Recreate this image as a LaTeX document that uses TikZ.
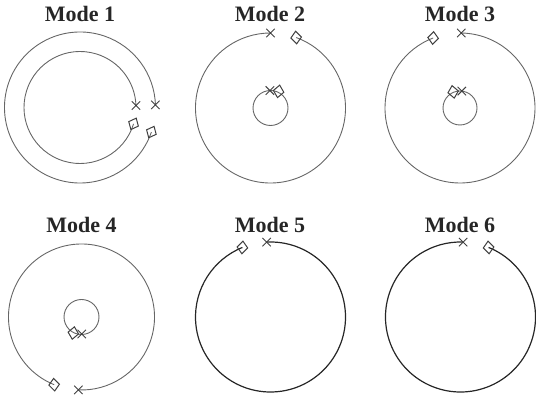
\documentclass[tikz,border=0pt]{standalone}
\usepackage{fontspec}
\setmainfont{Liberation Serif}
\usetikzlibrary{shapes.geometric,shapes.misc}
\begin{document}
\begin{tikzpicture}[x=1pt,y=1pt,
  title/.style={font=\fontsize{22}{22}\selectfont\bfseries, text=black!85, inner sep=0pt},
  orbit/.style={draw=black!60, line width=0.9pt},
  orbitdark/.style={draw=black!85, line width=1.2pt},
  cross/.style={cross out, draw=black!75, line width=0.9pt, minimum size=7.5pt, inner sep=0pt},
  lozenge/.style={diamond, draw=black!75, line width=1pt, minimum width=11pt, minimum height=13pt, inner sep=0pt},
]
\useasboundingbox (0,0) rectangle (536,396);

% centres of the six panels
\coordinate (c1) at (80,288.5);
\coordinate (c2) at (270.5,288);
\coordinate (c3) at (460,288);
\coordinate (c4) at (81.5,79);
\coordinate (c5) at (270.5,79);
\coordinate (c6) at (460.5,79);

% titles
\node[title] (t1) at (80,382) {Mode 1};
\node[title] (t2) at (270,382) {Mode 2};
\node[title] (t3) at (460,382) {Mode 3};
\node[title] (t4) at (81.5,171) {Mode 4};
\node[title] (t5) at (270,171) {Mode 5};
\node[title] (t6) at (460,171) {Mode 6};

% Mode 1: two nearly closed loops
\draw[orbit] ([shift={(-19:75.5)}]c1) arc[start angle=-19, end angle=-358, radius=75.5];
\draw[orbit] ([shift={(-17:56)}]c1) arc[start angle=-17, end angle=-358, radius=56];
\node[cross] (x1a) at ([shift={(2:75.5)}]c1) {};
\node[cross] (x1b) at ([shift={(2:56)}]c1) {};
\node[lozenge, rotate=-25] (d1a) at ([shift={(-19:75.5)}]c1) {};
\node[lozenge, rotate=-25] (d1b) at ([shift={(-17:56)}]c1) {};

% Mode 2
\draw[orbit] ([shift={(70:75)}]c2) arc[start angle=70, end angle=-270, radius=75];
\draw[orbit] (c2) circle[radius=17.5];
\node[cross] (x2a) at ([shift={(90:75)}]c2) {};
\node[lozenge, rotate=5] (d2a) at ([shift={(70:75)}]c2) {};
\node[cross] (x2b) at ([shift={(92:17.5)}]c2) {};
\node[lozenge, rotate=-10] (d2b) at ([shift={(64:18.5)}]c2) {};

% Mode 3
\draw[orbit] ([shift={(89:75)}]c3) arc[start angle=89, end angle=-249, radius=75];
\draw[orbit] (c3) circle[radius=17];
\node[cross] (x3a) at ([shift={(89:75)}]c3) {};
\node[lozenge, rotate=-5] (d3a) at ([shift={(111:75)}]c3) {};
\node[cross] (x3b) at ([shift={(84:17)}]c3) {};
\node[lozenge, rotate=10] (d3b) at ([shift={(113:17.5)}]c3) {};

% Mode 4
\draw[orbit] ([shift={(-112:73)}]c4) arc[start angle=-112, end angle=-452.5, radius=73];
\draw[orbit] (c4) circle[radius=17.5];
\node[cross] (x4a) at ([shift={(-92.5:73)}]c4) {};
\node[lozenge, rotate=5] (d4a) at ([shift={(-112:73)}]c4) {};
\node[cross] (x4b) at ([shift={(-89:17)}]c4) {};
\node[lozenge, rotate=-10] (d4b) at ([shift={(-117:18)}]c4) {};

% Mode 5
\draw[orbitdark] ([shift={(93:75)}]c5) arc[start angle=93, end angle=-248, radius=75];
\node[cross] (x5) at ([shift={(93:75)}]c5) {};
\node[lozenge, rotate=-5] (d5) at ([shift={(112:75)}]c5) {};

% Mode 6
\draw[orbitdark] ([shift={(68:75)}]c6) arc[start angle=68, end angle=-272, radius=75];
\node[cross] (x6) at ([shift={(88:75)}]c6) {};
\node[lozenge, rotate=5] (d6) at ([shift={(68:75)}]c6) {};
\end{tikzpicture}
\end{document}
